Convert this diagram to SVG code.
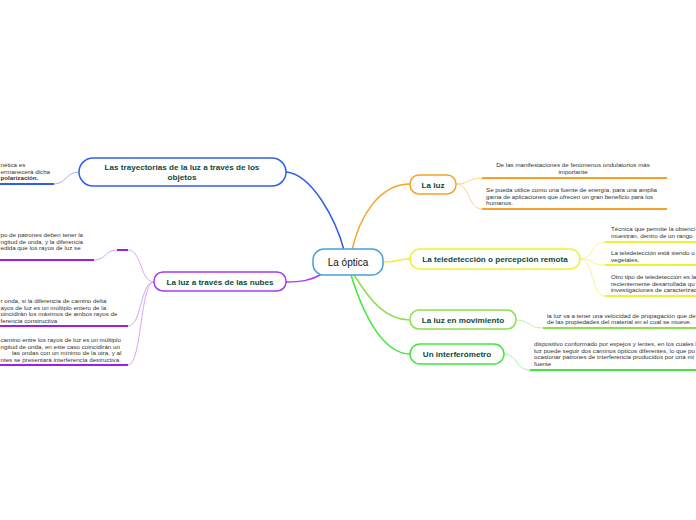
<svg xmlns="http://www.w3.org/2000/svg" width="696" height="520" viewBox="0 0 696 520">
<style>
.nt{font-family:"Liberation Sans",Arial,sans-serif;font-weight:bold;font-size:8.1px;fill:#10493a}
.st{font-family:"Liberation Sans",Arial,sans-serif;font-size:6.2px;fill:#333}
.box{fill:#fff;stroke-width:1.5}
.c{fill:none;stroke-width:1.5}
.sc{fill:none;stroke-width:1}
.ul{fill:none;stroke-width:2}
</style>
<rect width="696" height="520" fill="#fff"/>
<g id="connectors">
<path class="c" stroke="#2f5fe8" d="M344,250 C336,220 312,174 286,172"/>
<path class="c" stroke="#f7a226" d="M352,250 C360,215 380,184 410,184"/>
<path class="c" stroke="#a63df0" d="M322,274 C310,281 300,282 286,282"/>
<path class="c" stroke="#f0f030" d="M383,262 C395,262 400,259 410,259"/>
<path class="c" stroke="#8be04a" d="M354,275 C370,300 385,320 410,320"/>
<path class="c" stroke="#3ee83e" d="M351,275 C365,320 385,354 410,354"/>
<path class="sc" stroke="#9fb5f3" d="M79,172 C66,172 66,184 54,184"/>
<path class="ul" stroke="#2f5fe8" d="M0,184 H54"/>
<path class="sc" stroke="#d9a6f7" d="M154,282 C140,282 142,250 128,250"/>
<path class="ul" stroke="#9b1fe8" d="M117,250 H128"/>
<path class="sc" stroke="#d9a6f7" d="M117,250 C105,250 106,260 94,260"/>
<path class="ul" stroke="#9b1fe8" d="M0,260 H94"/>
<path class="sc" stroke="#d9a6f7" d="M154,282 C140,282 142,326 128,326"/>
<path class="ul" stroke="#9b1fe8" d="M0,326 H128"/>
<path class="sc" stroke="#d9a6f7" d="M154,282 C140,282 142,365 128,365"/>
<path class="ul" stroke="#9b1fe8" d="M0,365 H128"/>
<path class="sc" stroke="#fbd38d" d="M456,184 C470,184 468,178 482,178"/>
<path class="sc" stroke="#fbd38d" d="M456,184 C470,184 468,209 482,209"/>
<path class="ul" stroke="#f7a226" d="M482,178 H667"/>
<path class="ul" stroke="#f7a226" d="M482,209 H667"/>
<path class="sc" stroke="#f5f590" d="M580,259 C595,259 590,242 605,242"/>
<path class="sc" stroke="#f5f590" d="M580,259 C595,259 590,265 605,265"/>
<path class="sc" stroke="#f5f590" d="M580,259 C595,259 590,296 605,296"/>
<path class="ul" stroke="#f0f030" d="M605,242 H696"/>
<path class="ul" stroke="#f0f030" d="M605,265 H696"/>
<path class="ul" stroke="#f0f030" d="M605,296 H696"/>
<path class="sc" stroke="#c3f09c" d="M516,320 C530,320 528,328 543,328"/>
<path class="ul" stroke="#8be04a" d="M543,328 H696"/>
<path class="sc" stroke="#a6f2a6" d="M504,354 C518,354 515,370 530,370"/>
<path class="ul" stroke="#3ee83e" d="M530,370 H696"/>
</g>
<g id="center">
<rect class="box" x="313" y="249" width="70" height="26" rx="11" stroke="#4a9edc"/>
<text x="348" y="265.5" text-anchor="middle" font-family="Liberation Sans, Arial, sans-serif" font-size="10" fill="#111">La óptica</text>
</g>
<g id="n-trayectorias">
<rect class="box" x="79" y="158" width="207" height="28" rx="14" stroke="#2f5fe8"/>
<text class="nt" x="182" y="170" text-anchor="middle">Las trayectorias de la luz a través de los</text>
<text class="nt" x="182" y="179.5" text-anchor="middle">objetos</text>
</g>
<g id="t-trayectorias">
<text class="st" x="0.5" y="167">nética es</text>
<text class="st" x="0.5" y="173.5">ermanecerá dicha</text>
<text class="st" x="0.5" y="180" font-weight="bold" fill="#111">polarización.</text>
</g>
<g id="n-nubes">
<rect class="box" x="154" y="272" width="132" height="19" rx="9" stroke="#a63df0"/>
<text class="nt" x="220" y="284.5" text-anchor="middle">La luz a través de las nubes</text>
</g>
<g id="t-nubes">
<text class="st" x="0.5" y="237">po de patrones deben tener la</text>
<text class="st" x="0.5" y="243.5">ngitud de onda, y la diferencia</text>
<text class="st" x="0.5" y="250">edida que los rayos de luz se</text>
<text class="st" x="0.5" y="303">r onda, si la diferencia de camino delta</text>
<text class="st" x="0.5" y="309.5">ayos de luz es un múltiplo entero de la</text>
<text class="st" x="0.5" y="316">oincidirán los máximos de ambos rayos de</text>
<text class="st" x="0.5" y="322.5">ferencia constructiva</text>
<text class="st" x="0.5" y="342">camino entre los rayos de luz es un múltiplo</text>
<text class="st" x="0.5" y="348.5">ngitud de onda, en este caso coincidirán un</text>
<text class="st" x="12" y="355">las ondas con un mínimo de la otra, y al</text>
<text class="st" x="0.5" y="361.5">ntes se presentará interferencia destructiva.</text>
</g>
<g id="n-luz">
<rect class="box" x="410" y="175" width="46" height="19" rx="9" stroke="#f7a226"/>
<text class="nt" x="433" y="187.5" text-anchor="middle">La luz</text>
</g>
<g id="t-luz">
<text class="st" x="573" y="167" text-anchor="middle">De las manifestaciones de fenómenos ondulatorios más</text>
<text class="st" x="573" y="173.5" text-anchor="middle">importante</text>
<text class="st" x="486" y="192">Se pueda utilice como una fuente de energía, para una amplia</text>
<text class="st" x="486" y="198.5">gama de aplicaciones que ofrecen un gran beneficio para los</text>
<text class="st" x="486" y="205">humanos.</text>
</g>
<g id="n-teledeteccion">
<rect class="box" x="410" y="249" width="170" height="20" rx="10" stroke="#f0f030"/>
<text class="nt" x="495" y="262" text-anchor="middle">La teledetección o percepción remota</text>
</g>
<g id="t-teledeteccion">
<text class="st" x="611" y="231">Técnica que permite la obtenci</text>
<text class="st" x="611" y="237.5">muestran, dentro de un rango</text>
<text class="st" x="611" y="255">La teledetección está siendo u</text>
<text class="st" x="611" y="261.5">vegetales.</text>
<text class="st" x="611" y="279">Otro tipo de teledetección es la</text>
<text class="st" x="611" y="285.5">recientemente desarrollada qu</text>
<text class="st" x="611" y="292">investigaciones de caracterizac</text>
</g>
<g id="n-movimiento">
<rect class="box" x="410" y="310" width="106" height="19" rx="9" stroke="#8be04a"/>
<text class="nt" x="463" y="322.5" text-anchor="middle">La luz en movimiento</text>
</g>
<g id="t-movimiento">
<text class="st" x="547" y="317.5">la luz va a tener una velocidad de propagación que de</text>
<text class="st" x="547" y="324">de las propiedades del material en el cual se mueve.</text>
</g>
<g id="n-interferometro">
<rect class="box" x="410" y="344" width="94" height="20" rx="10" stroke="#3ee83e"/>
<text class="nt" x="457" y="357" text-anchor="middle">Un interferómetro</text>
</g>
<g id="t-interferometro">
<text class="st" x="534" y="346">dispositivo conformado por espejos y lentes, en los cuales l</text>
<text class="st" x="534" y="352.5">luz puede seguir dos caminos ópticos diferentes, lo que pu</text>
<text class="st" x="534" y="359">ocasionar patrones de interferencia producidos por una mi</text>
<text class="st" x="534" y="365.5">fuente</text>
</g>
</svg>
